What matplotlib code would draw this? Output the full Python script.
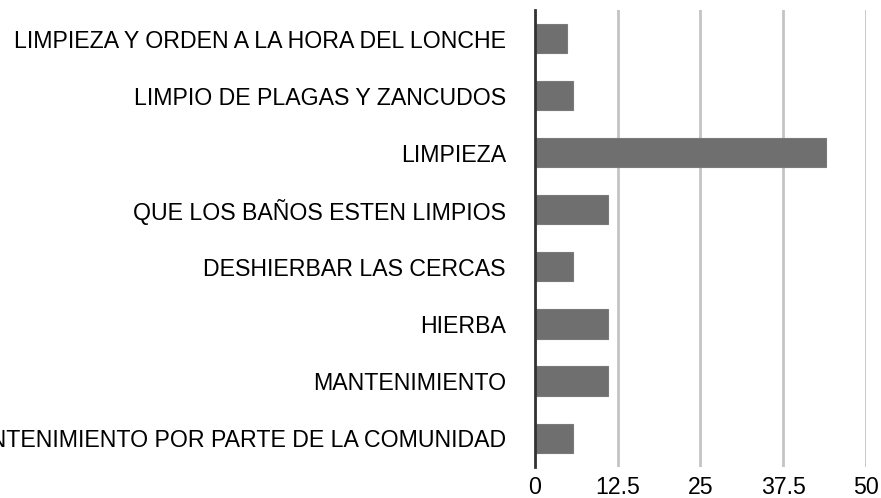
import matplotlib
matplotlib.use("Agg")
import matplotlib.pyplot as plt

# categories top to bottom
categories = [
    "LIMPIEZA Y ORDEN A LA HORA DEL LONCHE",
    "LIMPIO DE PLAGAS Y ZANCUDOS",
    "LIMPIEZA",
    "QUE LOS BAÑOS ESTEN LIMPIOS",
    "DESHIERBAR LAS CERCAS",
    "HIERBA",
    "MANTENIMIENTO",
    "MANTENIMIENTO POR PARTE DE LA COMUNIDAD",
]
values = [4.9, 5.8, 44.0, 11.1, 5.8, 11.1, 11.1, 5.8]
xticks = [0, 12.5, 25, 37.5, 50]
xtick_labels = ["0", "12.5", "25", "37.5", "50"]

plt.rcParams["font.family"] = ["Liberation Sans", "DejaVu Sans"]

fig = plt.figure(figsize=(8.81, 4.98), dpi=100)
ax = fig.add_axes([0.6073, 0.0629, 0.3753, 0.9170])

pos = list(range(len(categories)))
ax.barh(pos, values, height=0.51, color="#6f6f6f", edgecolor="#7a7a7a",
        linewidth=0.8, zorder=3)

ax.set_ylim(len(categories) - 0.5, -0.5)
ax.set_xlim(0, 50)
ax.set_xticks(xticks)
ax.set_xticklabels(xtick_labels, fontsize=16.7, color="#000000")
ax.set_yticks(pos)
ax.set_yticklabels(categories, fontsize=16.7, color="#000000")
ax.tick_params(axis="both", length=0)
ax.tick_params(axis="y", pad=21)
ax.tick_params(axis="x", pad=7)

ax.grid(axis="x", color="#c4c4c4", linewidth=2, zorder=1)
ax.grid(axis="y", visible=False)
for s in ["top", "right", "bottom"]:
    ax.spines[s].set_visible(False)
ax.spines["left"].set_color("#333333")
ax.spines["left"].set_linewidth(2)
ax.spines["left"].set_zorder(4)

fig.savefig("out.png", dpi=100)
